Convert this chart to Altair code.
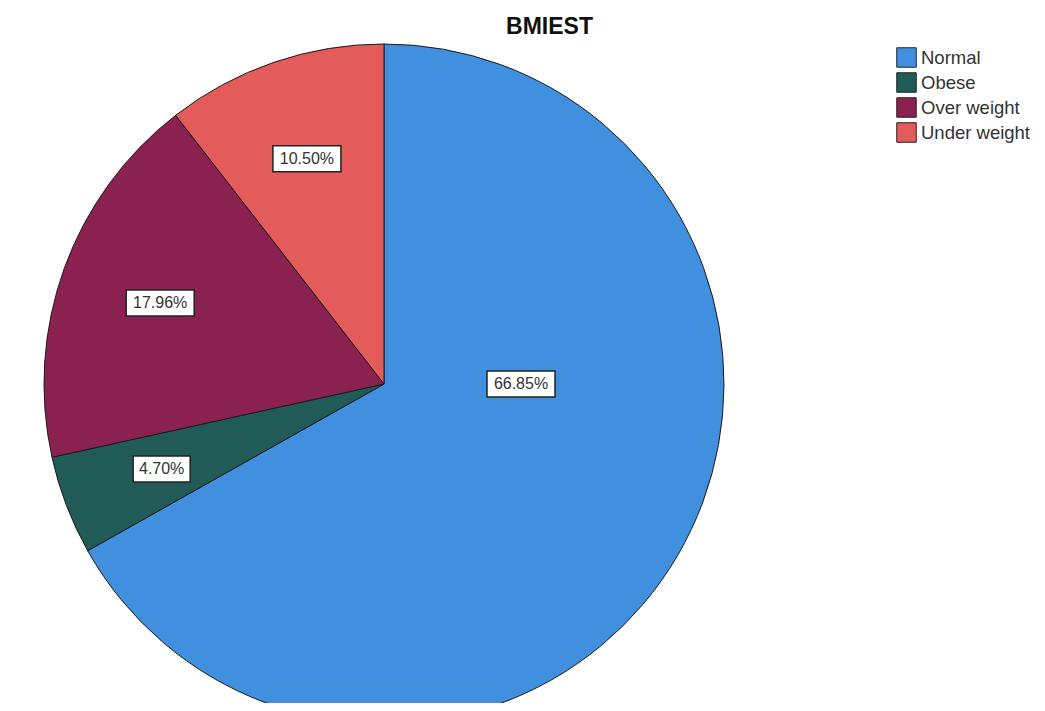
import altair as alt
import pandas as pd

categories = ["Normal", "Obese", "Over weight", "Under weight"]
percents = [66.85, 4.70, 17.96, 10.50]
colors = ["#4190E0", "#215B58", "#8B2150", "#E35B5B"]

df = pd.DataFrame({"cat": categories, "pct": percents, "idx": list(range(len(categories)))})

CX, CY, R = 376, 331, 340

base = alt.Chart(df)

arc = base.mark_arc(radius=R, stroke="#1a1a1a", strokeWidth=1).encode(
    theta=alt.Theta("pct:Q", stack=True),
    color=alt.Color(
        "cat:N",
        scale=alt.Scale(domain=categories, range=colors),
        legend=alt.Legend(
            title=None, orient="none", legendX=888, legendY=-6,
            symbolType="square", symbolSize=380, symbolStrokeColor="#222",
            symbolStrokeWidth=1, labelFont="Liberation Sans", labelFontSize=18.5,
            labelColor="#333", rowPadding=0, labelOffset=4,
        ),
    ),
    order=alt.Order("idx:Q"),
    x=alt.value(CX),
    y=alt.value(CY),
)

labels = (
    base.transform_window(cum="sum(pct)", sort=[alt.SortField("idx")], frame=[None, 0])
    .transform_joinaggregate(total="sum(pct)")
    .transform_calculate(mid="(datum.cum - datum.pct/2)/datum.total*2*PI")
    .transform_calculate(ang="datum.pct > 50 ? PI/2 : datum.mid")
    .transform_calculate(rr=f"datum.pct > 50 ? 137 : {0.7 * R}")
    .transform_calculate(lx=f"{CX} + datum.rr*sin(datum.ang)")
    .transform_calculate(ly=f"{CY} - datum.rr*cos(datum.ang)")
    .transform_calculate(label="format(datum.pct, '.2f') + '%'")
    .transform_calculate(hw="(length(datum.label)*11 + 2)/2")
    .transform_calculate(x1="datum.lx - datum.hw", x2="datum.lx + datum.hw",
                         y1="datum.ly - 13", y2="datum.ly + 13")
)

rect = labels.mark_rect(fill="white", stroke="#222", strokeWidth=1.5).encode(
    x=alt.X("x1:Q", scale=None, axis=None),
    x2="x2:Q",
    y=alt.Y("y1:Q", scale=None, axis=None),
    y2="y2:Q",
)

text = labels.mark_text(font="Liberation Sans", fontSize=16, color="#333").encode(
    x=alt.X("lx:Q", scale=None, axis=None),
    y=alt.Y("ly:Q", scale=None, axis=None),
    text="label:N",
)

chart = (
    alt.layer(arc, rect, text)
    .properties(
        width=1029,
        height=650,
        padding={"left": 0, "top": 45, "right": 0, "bottom": 0},
        autosize=alt.AutoSizeParams(type="none"),
        title=alt.TitleParams("BMIEST", font="Liberation Sans", fontSize=23,
                              fontWeight="bold", anchor="middle", dx=27, offset=3,
                              color="#111"),
        background="white",
    )
    .configure_view(stroke=None)
)

chart.save("out.html", embed_options={"renderer": "svg", "actions": False})
